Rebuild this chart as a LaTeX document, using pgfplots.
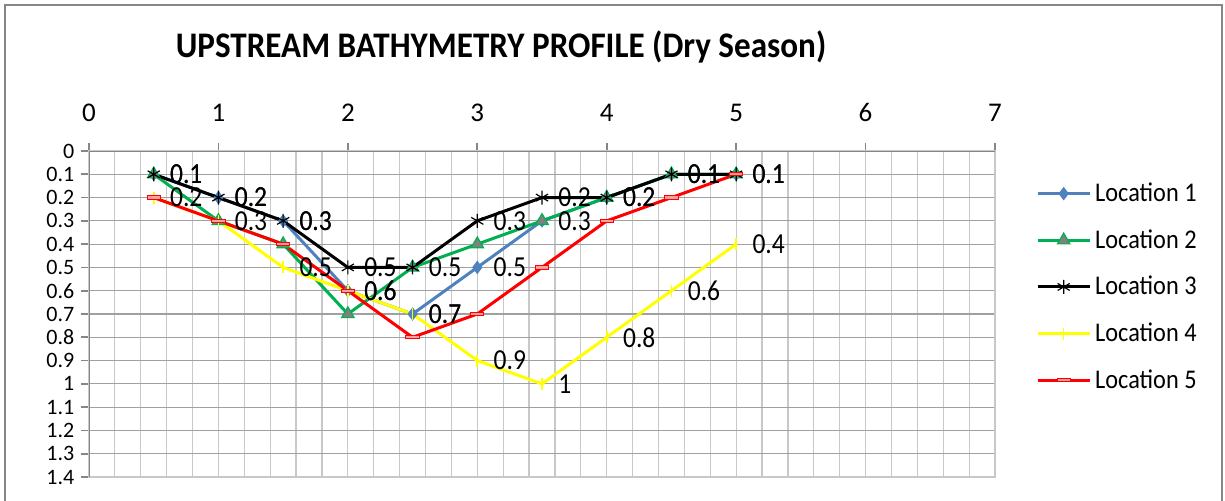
\documentclass[border=0pt]{standalone}
\usepackage{fontspec}
\setmainfont{Carlito}
\newfontfamily\condfont[FakeStretch=0.88]{Carlito}
\newfontfamily\legfont[FakeStretch=0.9]{Carlito}
\newfontfamily\titlefont[FakeStretch=0.92]{Carlito}
\usepackage{pgfplots}
\pgfplotsset{compat=1.18}
\definecolor{c1}{RGB}{79,129,189}
\definecolor{c2}{RGB}{0,176,80}
\definecolor{c4}{RGB}{255,255,0}
\definecolor{c5}{RGB}{255,0,0}
\definecolor{framegray}{RGB}{134,134,134}
\definecolor{hgray}{RGB}{160,160,160}
\definecolor{vgray}{RGB}{200,200,200}
\begin{document}
\begin{tikzpicture}
\useasboundingbox (0,0) rectangle (612.5pt,250pt);
\draw[framegray, line width=1pt] (2.5pt,-2pt) -- (2.5pt,247.5pt) -- (611pt,247.5pt) -- (611pt,-2pt);
\node[font=\titlefont\bfseries\fontsize{18}{20}\selectfont] at (250.5pt,226.5pt) {UPSTREAM BATHYMETRY PROFILE (Dry Season)};
\begin{axis}[
  at={(44.5pt,174.5pt)}, anchor=north west,
  scale only axis, width=453pt, height=163pt,
  xmin=0, xmax=7, ymin=0, ymax=1.4,
  y dir=reverse,
  xtick={0,1,2,3,4,5,6,7},
  ytick={0,0.1,0.2,0.3,0.4,0.5,0.6,0.7,0.8,0.9,1,1.1,1.2,1.3,1.4},
  minor x tick num=4,
  grid=both,
  x grid style={vgray, line width=0.6pt},
  y grid style={hgray, line width=0.6pt},
  axis line style={vgray, line width=0.6pt},
  tick style={framegray, line width=0.8pt},
  minor tick length=0pt,
  major tick length=3.8pt,
  tick align=outside,
  xtick pos=right, ytick pos=left,
  xticklabel pos=right,
  /pgf/number format/assume math mode=true,
  xticklabel style={font=\fontsize{13.5}{14}\selectfont, yshift=7.5pt},
  yticklabel style={font=\fontsize{11}{11}\selectfont},
  legend style={draw=none, fill=none, at={(1.045,0.583)}, anchor=west,
    font=\legfont\fontsize{13.5}{14}\selectfont, row sep=8.5pt, inner sep=0pt},
  legend cell align=left,
  legend image code/.code={\draw[mark repeat=2,mark phase=2] plot coordinates {(0pt,0pt) (13pt,0pt) (26pt,0pt)};},
  every node near coord/.style={anchor=west, inner sep=0pt, xshift=8pt, black, font=\condfont\fontsize{14.5}{15}\selectfont},
]
\draw[framegray, line width=1pt] (axis cs:0,1.4) -- (axis cs:0,0) -- (axis cs:7,0);
\addplot[c1, line width=1.5pt, mark=diamond*, mark size=3pt, mark options={fill=c1, draw=c1, line width=0.5pt}]
 coordinates {(0.5,0.1) (1,0.2) (1.5,0.3) (2,0.6) (2.5,0.7) (3,0.5) (3.5,0.3) (4,0.2) (4.5,0.1) (5,0.1)};
\addlegendentry{Location 1}
\addplot[c2, line width=1.5pt, mark=triangle*, mark size=3.6pt, mark options={fill=gray, draw=c2, line width=0.6pt}]
 coordinates {(0.5,0.1) (1,0.3) (1.5,0.4) (2,0.7) (2.5,0.5) (3,0.4) (3.5,0.3) (4,0.2) (4.5,0.1) (5,0.1)};
\addlegendentry{Location 2}
\addplot[black, line width=1.5pt, mark=asterisk, mark size=3.5pt, mark options={line width=0.6pt}]
 coordinates {(0.5,0.1) (1,0.2) (1.5,0.3) (2,0.5) (2.5,0.5) (3,0.3) (3.5,0.2) (4,0.2) (4.5,0.1) (5,0.1)};
\addlegendentry{Location 3}
\addplot[c4, line width=1.5pt, mark=|, mark size=3pt, mark options={line width=0.8pt}]
 coordinates {(0.5,0.2) (1,0.3) (1.5,0.5) (2,0.6) (2.5,0.7) (3,0.9) (3.5,1) (4,0.8) (4.5,0.6) (5,0.4)};
\addlegendentry{Location 4}
\addplot[c5, line width=1.5pt, mark=square*, mark size=2.2pt, mark options={xscale=1.5, yscale=0.38, fill={rgb,255:red,255;green,160;blue,160}, draw=c5, line width=0.5pt}]
 coordinates {(0.5,0.2) (1,0.3) (1.5,0.4) (2,0.6) (2.5,0.8) (3,0.7) (3.5,0.5) (4,0.3) (4.5,0.2) (5,0.1)};
\addlegendentry{Location 5}
% data labels (drawn on top)
\addplot[draw=none, nodes near coords, forget plot]
 coordinates {(0.5,0.1) (1,0.2) (1.5,0.3) (2,0.6) (2.5,0.7) (3,0.5) (3.5,0.3) (4,0.2) (4.5,0.1) (5,0.1)};
\addplot[draw=none, nodes near coords, forget plot]
 coordinates {(0.5,0.1) (1,0.2) (1.5,0.3) (2,0.5) (2.5,0.5) (3,0.3) (3.5,0.2) (4,0.2) (4.5,0.1) (5,0.1)};
\addplot[draw=none, nodes near coords, forget plot]
 coordinates {(0.5,0.2) (1,0.3) (1.5,0.5) (2,0.6) (2.5,0.7) (3,0.9) (3.5,1) (4,0.8) (4.5,0.6) (5,0.4)};
\end{axis}
\end{tikzpicture}
\end{document}
